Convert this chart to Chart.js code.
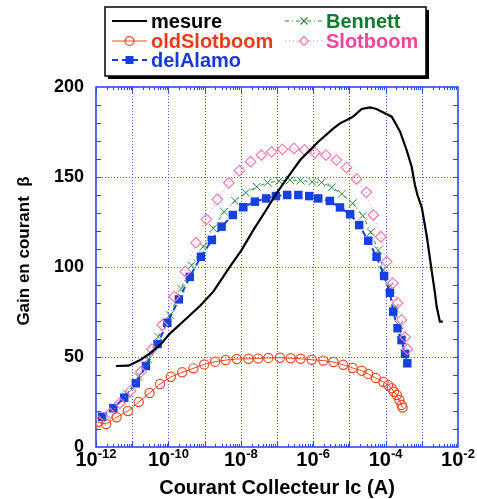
<!DOCTYPE html>
<html>
<head>
<meta charset="utf-8">
<script src="https://cdn.jsdelivr.net/npm/chart.js@4.4.1/dist/chart.umd.min.js"></script>
<style>
	html, body { margin: 0; padding: 0; background: #fff; }
	canvas { display: block; }
</style>
</head>
<body>
<canvas id="graficoGain" width="477" height="499"></canvas>
<script>
// log10(Ic) in A, and the gain read at each point
var mesureLogIc = [-11.45, -11.10, -10.78, -10.51, -10.23, -9.96, -9.60, -9.13, -8.76, -8.30, -7.98, -7.65, -7.33, -7.01, -6.69, -6.36, -5.86, -5.44, -5.26, -4.94, -4.85, -4.66, -4.43, -4.25, -4.02, -3.83, -3.60, -3.42, -3.28, -3.19, -3.12, -3.00, -2.86, -2.73, -2.64, -2.59, -2.50, -2.42];
var mesureGain = [45, 45.2, 48.3, 52, 56.7, 63, 69.6, 78.3, 86.3, 100.2, 109.4, 120.6, 130.7, 141, 150.2, 159.4, 169.6, 177, 179.8, 183, 184.4, 187.8, 188.7, 187.8, 185.4, 183.5, 175.2, 165, 155.7, 145.6, 140, 133, 116.8, 98.3, 86, 78, 69.6, 69.6];

var oldSlotboomLogIc = [-11.96, -11.72, -11.43, -11.12, -10.82, -10.52, -10.23, -9.93, -9.62, -9.31, -9.01, -8.71, -8.42, -8.11, -7.79, -7.52, -7.24, -6.92, -6.62, -6.35, -6.04, -5.72, -5.44, -5.17, -4.91, -4.66, -4.48, -4.27, -4.06, -3.93, -3.83, -3.77, -3.69, -3.62, -3.56, -3.53];
var oldSlotboomGain = [13.8, 12.8, 16.5, 20, 25, 30, 35, 39, 41.5, 43.7, 45.9, 47.4, 48.3, 48.9, 49, 49.2, 49.5, 49.6, 49.3, 49, 48.5, 48, 47.2, 45.7, 43.9, 42.4, 40.6, 38.3, 36.1, 34.4, 32.6, 30.7, 28.9, 26.1, 23.3, 21.9];

var delAlamoLogIc = [-11.83, -11.52, -11.22, -10.90, -10.62, -10.30, -10.03, -9.71, -9.41, -9.10, -8.80, -8.53, -8.22, -7.93, -7.61, -7.30, -7.03, -6.72, -6.41, -6.11, -5.86, -5.54, -5.26, -4.98, -4.73, -4.48, -4.25, -4.04, -3.88, -3.79, -3.67, -3.56, -3.46, -3.40];
var delAlamoGain = [16.8, 21.5, 27.4, 35.4, 45, 57.2, 69, 82, 94.5, 105.7, 115, 122.4, 128.9, 133.2, 136.3, 138.1, 139.4, 140, 140, 139.4, 138.1, 136.7, 133.1, 129.3, 123.3, 114.6, 105.7, 95, 85.7, 75.2, 66, 59.4, 51.7, 46.5];

var bennettLogIc = [-11.84, -11.53, -11.15, -10.83, -10.56, -10.28, -9.96, -9.65, -9.36, -9.04, -8.76, -8.46, -8.16, -7.86, -7.56, -7.26, -6.94, -6.64, -6.35, -6.03, -5.77, -5.49, -5.21, -4.91, -4.63, -4.41, -4.20, -4.06, -3.90, -3.75, -3.63, -3.56, -3.49];
var bennettGain = [17, 22, 29.4, 39, 48.7, 61.3, 73.3, 88, 101, 111.3, 121.5, 130.7, 136.8, 141.3, 144.6, 146.8, 147.8, 148.3, 148, 147.4, 147, 144.3, 140.6, 135.4, 128.5, 119.3, 109.4, 98.3, 89, 77, 67.8, 60.4, 52];

var slotboomLogIc = [-11.91, -11.61, -11.34, -11.04, -10.76, -10.46, -10.17, -9.84, -9.53, -9.24, -8.95, -8.65, -8.33, -8.04, -7.73, -7.43, -7.15, -6.85, -6.53, -6.24, -5.95, -5.65, -5.36, -5.08, -4.80, -4.53, -4.34, -4.13, -3.97, -3.80, -3.67, -3.56, -3.46, -3.40];
var slotboomGain = [14, 18.7, 24.3, 31.3, 41.8, 54.3, 67.8, 83.5, 97.4, 113.5, 126.5, 137.6, 146.8, 153.5, 158.5, 162.2, 164, 165.4, 165.9, 165, 163.5, 162.2, 159.4, 155.2, 148.9, 141.5, 128.9, 116.8, 103, 91, 80, 70.6, 61, 54.3];

var decadesLabel = [-12, -10, -8, -6, -4, -2];
var gainTicks = [0, 50, 100, 150, 200];

var FONTE = '"Liberation Sans", Arial, Helvetica, sans-serif';
var AZUL_EIXO = '#2a4be6';

function pontos(logs, ganhos) {
	return logs.map(function(l, i) {
		return { x: Math.pow(10, l), y: ganhos[i] };
	});
}

function marcador(ctx, estilo, x, y) {
	ctx.save();
	ctx.setLineDash([]);
	ctx.strokeStyle = estilo.cor;
	ctx.fillStyle = estilo.cor;
	ctx.lineWidth = 1.2;
	ctx.beginPath();
	if (estilo.forma === 'circle') {
		ctx.arc(x, y, 4.4, 0, Math.PI * 2);
		ctx.stroke();
	} else if (estilo.forma === 'rect') {
		ctx.fillRect(x - 4, y - 4, 8, 8);
	} else if (estilo.forma === 'crossRot') {
		ctx.moveTo(x - 3.5, y - 3.5); ctx.lineTo(x + 3.5, y + 3.5);
		ctx.moveTo(x + 3.5, y - 3.5); ctx.lineTo(x - 3.5, y + 3.5);
		ctx.stroke();
	} else if (estilo.forma === 'rectRot') {
		ctx.moveTo(x - 4.5, y); ctx.lineTo(x, y - 4.5); ctx.lineTo(x + 4.5, y); ctx.lineTo(x, y + 4.5);
		ctx.closePath();
		ctx.stroke();
	}
	ctx.restore();
}

var legenda = [
	{ nome: 'mesure', col: 0, lin: 0, cor: '#000', texto: '#000', largura: 2.2, traco: [], forma: null },
	{ nome: 'Bennett', col: 1, lin: 0, cor: '#2f8a3e', texto: '#127a2c', largura: 1, traco: [4, 3, 1, 3], forma: 'crossRot' },
	{ nome: 'oldSlotboom', col: 0, lin: 1, cor: '#ee4a22', texto: '#ea3a16', largura: 1, traco: [], forma: 'circle' },
	{ nome: 'Slotboom', col: 1, lin: 1, cor: '#f27ab6', texto: '#f0449a', largura: 1, traco: [1, 3], forma: 'rectRot' },
	{ nome: 'delAlamo', col: 0, lin: 2, cor: '#1441e0', texto: '#1a3ad8', largura: 2, traco: [6, 4], forma: 'rect' }
];

var molduraPlugin = {
	id: 'moldura',
	beforeDatasetsDraw: function(chart) {
		var ctx = chart.ctx;
		var area = chart.chartArea;
		var xs = chart.scales.x;
		var ys = chart.scales.y;
		ctx.save();

		// dotted grid at every decade and every 50
		ctx.strokeStyle = 'rgba(50,80,232,0.9)';
		ctx.lineWidth = 1;
		ctx.setLineDash([1, 2]);
		for (var e = -11; e <= -3; e++) {
			var px = Math.round(xs.getPixelForValue(Math.pow(10, e))) + 0.5;
			ctx.beginPath(); ctx.moveTo(px, area.top); ctx.lineTo(px, area.bottom); ctx.stroke();
		}
		[50, 100, 150].forEach(function(v) {
			var py = Math.round(ys.getPixelForValue(v)) + 0.5;
			ctx.beginPath(); ctx.moveTo(area.left, py); ctx.lineTo(area.right, py); ctx.stroke();
		});

		// inward tick marks
		ctx.setLineDash([]);
		ctx.strokeStyle = AZUL_EIXO;
		for (var d = -12; d < -2; d++) {
			for (var m = 1; m <= 9; m++) {
				var x = Math.round(xs.getPixelForValue(m * Math.pow(10, d))) + 0.5;
				var len = m === 1 ? 6 : 3;
				ctx.beginPath();
				ctx.moveTo(x, area.bottom); ctx.lineTo(x, area.bottom - len);
				ctx.moveTo(x, area.top); ctx.lineTo(x, area.top + len);
				ctx.stroke();
			}
		}
		for (var g = 10; g < 200; g += 10) {
			var y = Math.round(ys.getPixelForValue(g)) + 0.5;
			ctx.beginPath();
			ctx.moveTo(area.left, y); ctx.lineTo(area.left + 5, y);
			ctx.moveTo(area.right, y); ctx.lineTo(area.right - 5, y);
			ctx.stroke();
		}

		ctx.lineWidth = 1.6;
		ctx.strokeRect(area.left, area.top, area.right - area.left, area.bottom - area.top);
		ctx.restore();
	},
	afterDraw: function(chart) {
		var ctx = chart.ctx;
		var area = chart.chartArea;
		var xs = chart.scales.x;
		ctx.save();

		// x tick labels 10^n
		ctx.fillStyle = '#000';
		ctx.textBaseline = 'alphabetic';
		decadesLabel.forEach(function(e) {
			var cx = xs.getPixelForValue(Math.pow(10, e));
			var base = '10';
			var exp = String(e);
			ctx.font = 'bold 20px ' + FONTE;
			var wb = ctx.measureText(base).width;
			ctx.font = 'bold 13px ' + FONTE;
			var we = ctx.measureText(exp).width;
			var x0 = cx - (wb + we) / 2;
			ctx.font = 'bold 20px ' + FONTE;
			ctx.textAlign = 'left';
			ctx.fillText(base, x0, 466);
			ctx.font = 'bold 13px ' + FONTE;
			ctx.fillText(exp, x0 + wb, 458);
		});

		// axis titles
		ctx.textAlign = 'center';
		ctx.textBaseline = 'middle';
		ctx.font = 'bold 20px ' + FONTE;
		ctx.fillText('Courant Collecteur Ic (A)', (area.left + area.right) / 2, 488);
		ctx.save();
		ctx.translate(24, 251);
		ctx.rotate(-Math.PI / 2);
		ctx.font = 'bold 17px ' + FONTE;
		ctx.fillText('Gain en courant  \u03b2', 0, 0);
		ctx.restore();

		// legend box with shadow
		ctx.fillStyle = '#000';
		ctx.fillRect(426, 10, 3, 69);
		ctx.fillRect(108, 76, 321, 3);
		ctx.fillStyle = '#fff';
		ctx.fillRect(105, 7, 321, 69);
		ctx.strokeStyle = '#000';
		ctx.lineWidth = 1.5;
		ctx.strokeRect(105, 7, 321, 69);

		var colX = [[112, 147, 151], [285, 323, 326]];
		var linY = [21, 41, 60];
		legenda.forEach(function(item) {
			var c = colX[item.col];
			var y = linY[item.lin];
			ctx.strokeStyle = item.cor;
			ctx.lineWidth = item.largura;
			ctx.setLineDash(item.traco);
			ctx.beginPath(); ctx.moveTo(c[0], y); ctx.lineTo(c[1], y); ctx.stroke();
			ctx.setLineDash([]);
			if (item.forma) {
				marcador(ctx, item, (c[0] + c[1]) / 2, y);
			}
			ctx.fillStyle = item.texto;
			ctx.font = 'bold 20px ' + FONTE;
			ctx.textAlign = 'left';
			ctx.textBaseline = 'middle';
			ctx.fillText(item.nome, c[2], y + 1);
		});
		ctx.restore();
	}
};

var grafico = new Chart(document.getElementById('graficoGain').getContext('2d'), {
	type: 'scatter',
	data: {
		datasets: [{
			label: 'mesure',
			data: pontos(mesureLogIc, mesureGain),
			showLine: true,
			borderColor: '#000',
			borderWidth: 2.2,
			pointRadius: 0
		}, {
			label: 'oldSlotboom',
			data: pontos(oldSlotboomLogIc, oldSlotboomGain),
			showLine: true,
			borderColor: '#ee4a22',
			borderWidth: 1,
			pointStyle: 'circle',
			pointRadius: 4.6,
			pointBorderWidth: 1.2,
			pointBorderColor: '#ee4a22',
			pointBackgroundColor: 'rgba(0,0,0,0)'
		}, {
			label: 'Slotboom',
			data: pontos(slotboomLogIc, slotboomGain),
			showLine: true,
			borderColor: '#f27ab6',
			borderDash: [1, 3],
			borderWidth: 1,
			pointStyle: 'rectRot',
			pointRadius: 5.3,
			pointBorderWidth: 1.2,
			pointBorderColor: '#f27ab6',
			pointBackgroundColor: 'rgba(0,0,0,0)'
		}, {
			label: 'delAlamo',
			data: pontos(delAlamoLogIc, delAlamoGain),
			showLine: true,
			borderColor: '#1441e0',
			borderDash: [6, 4],
			borderWidth: 2,
			pointStyle: 'rect',
			pointRadius: 6,
			pointBorderWidth: 0,
			pointBorderColor: '#1441e0',
			pointBackgroundColor: '#1441e0'
		}, {
			label: 'Bennett',
			data: pontos(bennettLogIc, bennettGain),
			showLine: true,
			borderColor: '#2f8a3e',
			borderDash: [4, 3, 1, 3],
			borderWidth: 1,
			pointStyle: 'crossRot',
			pointRadius: 5.5,
			pointBorderWidth: 1,
			pointBorderColor: '#2f8a3e'
		}]
	},
	options: {
		responsive: false,
		animation: false,
		devicePixelRatio: 1,
		layout: { padding: { left: 0, right: 19, top: 87, bottom: 0 } },
		plugins: {
			legend: { display: false },
			tooltip: { enabled: false }
		},
		scales: {
			x: {
				type: 'logarithmic',
				min: 1e-12,
				max: 1e-2,
				ticks: { display: false },
				grid: { display: false, drawTicks: false },
				border: { display: false },
				afterFit: function(s) { s.height = 52; }
			},
			y: {
				min: 0,
				max: 200,
				afterBuildTicks: function(s) {
					s.ticks = gainTicks.map(function(v) { return { value: v }; });
				},
				ticks: {
					color: '#000',
					padding: 12,
					font: { family: FONTE, size: 18, weight: 'bold' }
				},
				grid: { display: false, drawTicks: false },
				border: { display: false },
				afterFit: function(s) { s.width = 96; }
			}
		}
	},
	plugins: [molduraPlugin]
});
</script>
</body>
</html>
